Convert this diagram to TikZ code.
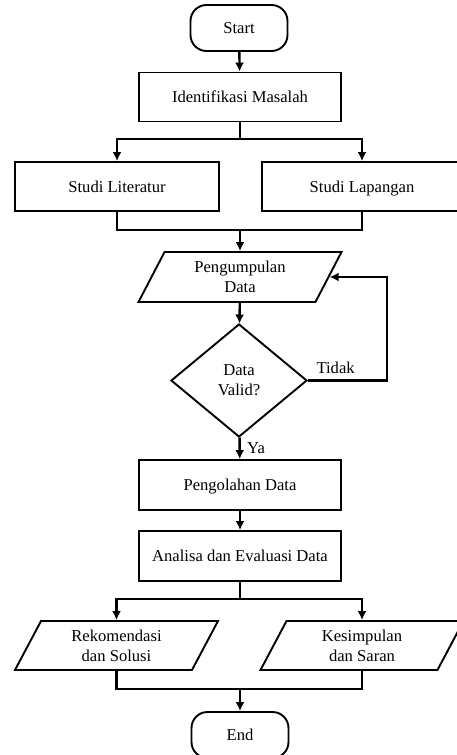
\documentclass[tikz,border=0pt]{standalone}
\usepackage{fontspec}
\setmainfont{Liberation Serif}
\usetikzlibrary{arrows.meta,positioning,shapes.geometric}
\tikzset {
	process/.style={rectangle, draw, line width=1.9pt, minimum width=202pt, minimum height=49pt, text height=13pt, text depth=2pt},
	terminal/.style={rectangle, draw, line width=1.9pt, rounded corners=16pt, minimum width=97pt, minimum height=46pt, text height=13pt, text depth=2pt},
	inout/.style={trapezium, draw, line width=1.9pt, trapezium left angle=50.6, trapezium right angle=129.4,
					trapezium stretches body, minimum width=203pt, minimum height=50pt, inner sep=0pt, align=center},
	decision/.style={diamond, draw, line width=1.9pt, minimum width=136pt, minimum height=113pt, inner sep=0pt, align=center},
	flow/.style={line width=2.4pt, -{Latex[length=9pt, width=9pt]}},
	joint/.style={line width=2.4pt}
}
\begin{document}
\begin{tikzpicture}[x=1pt, y=-1pt, font=\fontsize{16.6}{20}\selectfont]
	\useasboundingbox (0,0) rectangle (457,755);
	\node [terminal] (start) at (239,28) {Start};
	\node [process] (ident) at (240,97) {Identifikasi Masalah};
	\node [process, minimum width=204pt] (lit) at (117,186.5) {Studi Literatur};
	\node [process, minimum width=200pt] (lap) at (362,186.5) {Studi Lapangan};
	\node [inout] (data) at (240,277) {Pengumpulan\\Data};
	\node [decision] (valid) at (239,380.5) {Data\\Valid?};
	\node [process, minimum height=50pt] (olah) at (240,485) {Pengolahan Data};
	\node [process, minimum height=50pt] (analisa) at (240,556) {Analisa dan Evaluasi Data};
	\node [inout, minimum height=49pt] (rek) at (116.5,645.5) {Rekomendasi\\dan Solusi};
	\node [inout, minimum height=49pt] (kes) at (362,645.5) {Kesimpulan\\dan Saran};
	\node [terminal] (end) at (240,735) {End};
	\coordinate (split1) at (240,139);
	\coordinate (join1) at (240,230);
	\coordinate (loop) at (387,380.5);
	\coordinate (split2) at (240,599);
	\coordinate (join2) at (240,689);
	\draw [flow] (start) -- (ident);
	\draw [joint] (ident) -- (split1);
	\draw [flow] (split1) -| (lit);
	\draw [flow] (split1) -| (lap);
	\draw [joint] (lit) |- (join1) -| (lap);
	\draw [flow] (join1) -- (data);
	\draw [flow] (data) -- (valid);
	\draw [flow] (valid) -- node [above, pos=0.35, yshift=2pt] {Tidak} (loop) |- (data);
	\draw [flow] (valid) -- node [right, xshift=3pt] {Ya} (olah);
	\draw [flow] (olah) -- (analisa);
	\draw [joint] (analisa) -- (split2);
	\draw [flow] (split2) -| (rek);
	\draw [flow] (split2) -| (kes);
	\draw [joint] (rek) |- (join2) -| (kes);
	\draw [flow] (join2) -- (end);
\end{tikzpicture}
\end{document}
